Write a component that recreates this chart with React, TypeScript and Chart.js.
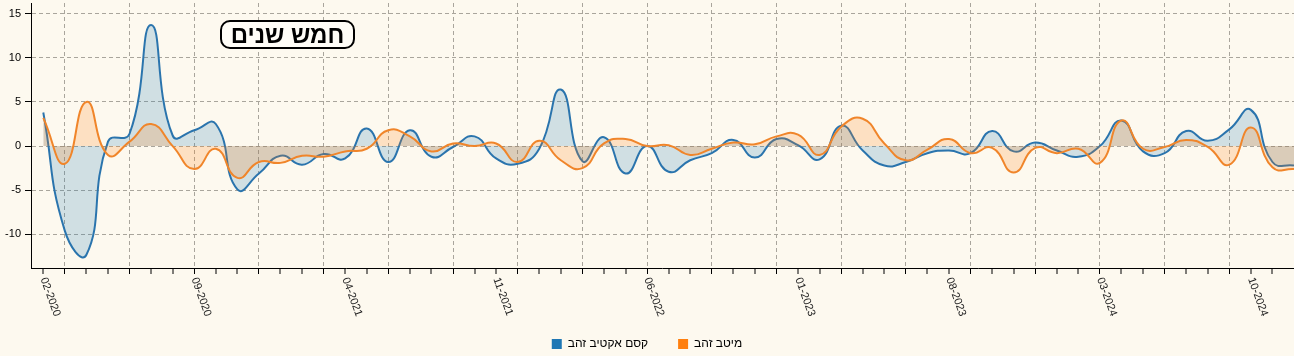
import React, { useEffect, useRef } from "react";
import { Chart, registerables } from "chart.js";

Chart.register(...registerables);

// Months (x categories)
const months: string[] = [
  "02-2020", "03-2020", "04-2020", "05-2020", "06-2020", "07-2020", "08-2020", "09-2020", "10-2020", "11-2020", "12-2020",
  "01-2021", "02-2021", "03-2021", "04-2021", "05-2021", "06-2021", "07-2021", "08-2021", "09-2021", "10-2021", "11-2021", "12-2021",
  "01-2022", "02-2022", "03-2022", "04-2022", "05-2022", "06-2022", "07-2022", "08-2022", "09-2022", "10-2022", "11-2022", "12-2022",
  "01-2023", "02-2023", "03-2023", "04-2023", "05-2023", "06-2023", "07-2023", "08-2023", "09-2023", "10-2023", "11-2023", "12-2023",
  "01-2024", "02-2024", "03-2024", "04-2024", "05-2024", "06-2024", "07-2024", "08-2024", "09-2024", "10-2024", "11-2024", "12-2024",
];

// קסם אקטיב זהב (blue)
const kesemValues: number[] = [
  3.8, -9.6, -12.3, 0.5, 1.4, 13.7, 1.2, 1.8, 2.5, -4.9, -3.1,
  -1.1, -2.1, -0.9, -1.4, 2.0, -1.8, 1.8, -1.2, -0.1, 1.1, -1.4, -2.0,
  -0.3, 6.4, -1.7, 1.0, -3.1, 0.0, -2.9, -1.6, -0.8, 0.7, -1.3, 0.8,
  0.1, -1.5, 2.3, -0.5, -2.2, -1.8, -0.8, -0.5, -0.8, 1.7, -0.6, 0.4,
  -0.5, -1.2, 0.0, 2.9, -0.6, -0.8, 1.7, 0.6, 1.9, 4.1, -1.8, -2.2,
];

// מיטב זהב (orange)
const meitavValues: number[] = [
  3.2, -2.0, 5.0, -1.0, 0.5, 2.5, 0.0, -2.6, -0.3, -3.6, -1.8,
  -1.9, -1.1, -1.2, -0.6, -0.3, 1.8, 1.1, -0.6, 0.3, 0.0, 0.3, -1.8,
  0.6, -1.6, -2.5, 0.3, 0.8, 0.0, 0.1, -1.0, -0.3, 0.4, 0.2, 1.1,
  1.3, -1.0, 2.2, 3.1, 0.3, -1.6, -0.4, 0.8, -0.8, -0.2, -3.0, -0.2,
  -0.8, -0.3, -1.9, 2.9, -0.3, -0.1, 0.7, -0.1, -2.1, 2.1, -2.4, -2.6,
];

const xTickLabels: string[] = ["02-2020", "09-2020", "04-2021", "11-2021", "06-2022", "01-2023", "08-2023", "03-2024", "10-2024"];
const gridMonths: string[] = ["03", "06", "09", "12"];
const yTickValues: number[] = [-10, -5, 0, 5, 10, 15];

const seriesNames: string[] = ["קסם אקטיב זהב", "מיטב זהב"];
const lineColors: string[] = ["#2a74ad", "#f0852a"];
const swatchColors: string[] = ["#1f77b4", "#ff7f0e"];
const fillColors: string[] = ["rgba(31,119,180,0.2)", "rgba(255,127,14,0.2)"];
const titleText = "חמש שנים";

const BG = "#fdf9ef";

const rotatedLabelsPlugin = {
  id: "rotatedXLabels",
  afterDraw(chart: any) {
    const xs = chart.scales.x;
    const ctx = chart.ctx as CanvasRenderingContext2D;
    ctx.save();
    ctx.font = '11px "Liberation Sans", Arial, sans-serif';
    ctx.fillStyle = "#222";
    ctx.textAlign = "left";
    ctx.textBaseline = "middle";
    xTickLabels.forEach((lab) => {
      const idx = months.indexOf(lab);
      const px = xs.getPixelForValue(idx);
      ctx.save();
      ctx.translate(px, xs.top + 10);
      ctx.rotate((70 * Math.PI) / 180);
      ctx.fillText(lab, 0, 0);
      ctx.restore();
    });
    ctx.restore();
  },
};

export default function App() {
  const canvasRef = useRef<HTMLCanvasElement | null>(null);

  useEffect(() => {
    document.body.style.margin = "0";
    document.body.style.background = BG;
    document.documentElement.style.background = BG;
    const canvas = canvasRef.current;
    if (!canvas) return;

    const kesemData = months.map((_, i) => ({ x: i, y: kesemValues[i] }));
    const meitavData = months.map((_, i) => ({ x: i, y: meitavValues[i] }));

    const chart = new Chart(canvas, {
      type: "line",
      data: {
        datasets: [
          {
            label: seriesNames[0],
            data: kesemData,
            borderColor: lineColors[0],
            backgroundColor: fillColors[0],
            borderWidth: 2,
            pointRadius: 0,
            tension: 0.5,
            fill: "origin",
            order: 2,
          },
          {
            label: seriesNames[1],
            data: meitavData,
            borderColor: lineColors[1],
            backgroundColor: fillColors[1],
            borderWidth: 2,
            pointRadius: 0,
            tension: 0.5,
            fill: "origin",
            order: 1,
          },
        ],
      },
      options: {
        responsive: false,
        animation: false,
        devicePixelRatio: 1,
        layout: { padding: { top: 3, left: 0, right: 0, bottom: 0 } },
        plugins: {
          legend: {
            position: "bottom",
            maxHeight: 48,
            labels: {
              boxWidth: 10,
              boxHeight: 10,
              padding: 30,
              color: "#000",
              font: { family: '"Liberation Sans", Arial, sans-serif', size: 12 },
              sort: (a: any, b: any) => a.datasetIndex - b.datasetIndex,
              generateLabels: (chart: any) => {
                const items = Chart.defaults.plugins.legend.labels.generateLabels(chart);
                return items.map((it: any) => ({
                  ...it,
                  fillStyle: swatchColors[it.datasetIndex],
                  strokeStyle: swatchColors[it.datasetIndex],
                  lineWidth: 0,
                }));
              },
            },
          },
          tooltip: { enabled: false },
        },
        scales: {
          x: {
            type: "linear",
            min: -0.57,
            max: 58,
            afterBuildTicks: (scale: any) => {
              scale.ticks = months.map((_, i) => ({ value: i }));
            },
            afterFit: (scale: any) => {
              scale.height = 40;
              scale.paddingLeft = 0;
              scale.paddingRight = 0;
            },
            ticks: {
              autoSkip: false,
              callback: () => "",
            },
            grid: {
              color: "#a9a59c",
              lineWidth: (ctx: any) => {
                const v = ctx.tick ? ctx.tick.value : -1;
                const m = months[v];
                return m && gridMonths.includes(m.slice(0, 2)) ? 1 : 0;
              },
              tickColor: "#000",
              tickWidth: 1,
              tickLength: 6,
              tickBorderDash: [],
            },
            border: { display: true, color: "#000", width: 1, dash: [4, 3] },
          },
          y: {
            type: "linear",
            min: -13.8,
            max: 16.2,
            afterBuildTicks: (scale: any) => {
              scale.ticks = yTickValues.map((v) => ({ value: v }));
            },
            afterFit: (scale: any) => {
              scale.width = 31;
              scale.paddingTop = 0;
              scale.paddingBottom = 0;
            },
            ticks: {
              color: "#000",
              padding: 4,
              font: { family: '"Liberation Sans", Arial, sans-serif', size: 11 },
            },
            grid: {
              color: "#a9a59c",
              lineWidth: 1,
              tickColor: "#000",
              tickWidth: 1,
              tickLength: 6,
              tickBorderDash: [],
            },
            border: { display: true, color: "#000", width: 1, dash: [4, 3] },
          },
        },
      },
      plugins: [rotatedLabelsPlugin],
    } as any);

    return () => chart.destroy();
  }, []);

  return (
    <div style={{ position: "relative", width: 1294, height: 356, background: BG }}>
      <canvas ref={canvasRef} width={1294} height={356} style={{ display: "block" }} />
      <div
        style={{
          position: "absolute",
          left: 220,
          top: 20,
          width: 135,
          height: 29,
          boxSizing: "border-box",
          border: "2px solid #000",
          borderRadius: 10,
          background: "#fffdf7",
          display: "flex",
          alignItems: "center",
          justifyContent: "center",
          fontFamily: '"Liberation Sans", Arial, sans-serif',
          fontWeight: "bold",
          fontSize: 24,
          color: "#000",
          direction: "rtl",
        }}
      >
        {titleText}
      </div>
    </div>
  );
}
